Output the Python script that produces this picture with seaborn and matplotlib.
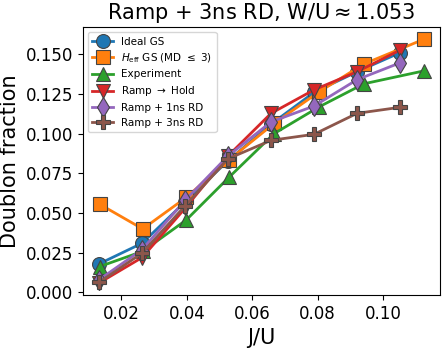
import matplotlib
matplotlib.use('Agg')
import matplotlib.pyplot as plt
import seaborn as sns

# J/U values (simulations and experiment use slightly different grids)
ju_sim = [0.01316, 0.02632, 0.03947, 0.05263, 0.06579, 0.07895, 0.09211, 0.10526]
ju_exp = [0.0133, 0.0265, 0.0398, 0.0529, 0.0667, 0.0806, 0.0942, 0.1125]

ideal_gs = [0.018, 0.031, 0.057, 0.083, 0.106, 0.126, 0.139, 0.151]
heff_gs = [0.0556, 0.040, 0.0598, 0.0835, 0.1064, 0.1265, 0.1439, 0.1594]
experiment = [0.0163, 0.0259, 0.0456, 0.0725, 0.100, 0.117, 0.1314, 0.1395]
ramp_hold = [0.006, 0.022, 0.053, 0.086, 0.1128, 0.1276, 0.139, 0.1526]
ramp_1ns = [0.008, 0.027, 0.058, 0.086, 0.1074, 0.1174, 0.134, 0.1446]
ramp_3ns = [0.0064, 0.0248, 0.0545, 0.0842, 0.0958, 0.0996, 0.1128, 0.1166]

fig = plt.figure(figsize=(4.48, 3.48), dpi=100)
ax = fig.add_axes([0.185, 0.152, 0.797, 0.77])

series = [
    (ju_sim, ideal_gs, 'o', 'Ideal GS'),
    (ju_exp, heff_gs, 's', r'$H_{\rm eff}$ GS (MD $\leq$ 3)'),
    (ju_exp, experiment, '^', 'Experiment'),
    (ju_sim, ramp_hold, 'v', r'Ramp $\rightarrow$ Hold'),
    (ju_sim, ramp_1ns, 'd', 'Ramp + 1ns RD'),
    (ju_sim, ramp_3ns, 'P', 'Ramp + 3ns RD'),
]
colors = sns.color_palette('tab10', 6)

for (x, y, m, lab), c in zip(series, colors):
    sns.lineplot(x=x, y=y, ax=ax, color=c, marker=m, markersize=10,
                 markeredgecolor='#444444', markeredgewidth=0.8,
                 linewidth=2, label=lab)

ax.set_xticks([0.02, 0.04, 0.06, 0.08, 0.10])
ax.set_xticklabels(['0.02', '0.04', '0.06', '0.08', '0.10'])
ax.set_yticks([0.0, 0.025, 0.05, 0.075, 0.1, 0.125, 0.15])
ax.set_yticklabels(['0.000', '0.025', '0.050', '0.075', '0.100', '0.125', '0.150'])
ax.tick_params(labelsize=12)
ax.set_xlabel('J/U', fontsize=15)
ax.set_ylabel('Doublon fraction', fontsize=15)
ax.set_title(r'Ramp + 3ns RD, W/U$\approx$1.053', fontsize=15)
ax.legend(loc='upper left', fontsize=7.5, labelspacing=0.45)

fig.savefig('out.png', dpi=100)
